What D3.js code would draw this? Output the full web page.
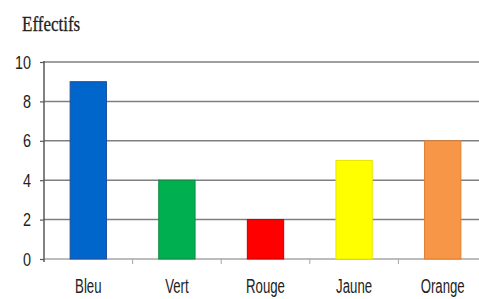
<!DOCTYPE html>
<html><head><meta charset="utf-8">
<script src="https://cdn.jsdelivr.net/npm/d3@7"></script>
<style>body{margin:0;background:#fff}svg{display:block}</style>
</head><body>
<svg id="c" width="479" height="299"></svg>
<script>
const categories = ["Bleu","Vert","Rouge","Jaune","Orange"];
const values = [9,4,2,5,6];
const colors = ["#0066cc","#00b050","#ff0000","#ffff00","#f79646"];
const borders = ["#1f4e99","#0f8a43","#c00000","#e6e600","#e07f30"];
const yTicks = [0,2,4,6,8,10];

const svg = d3.select("#c");
const x = d3.scaleBand().domain(categories).range([44,487]).paddingInner(0.59).paddingOuter(0.295);
const y = d3.scaleLinear().domain([0,10]).range([259,62]);

// gridlines
svg.append("g").selectAll("line").data(yTicks.filter(d=>d>0)).join("line")
  .attr("x1",44).attr("x2",479).attr("y1",d=>y(d)).attr("y2",d=>y(d))
  .attr("stroke","#7f7f7f").attr("stroke-width",1.5);
// baseline
svg.append("line").attr("x1",44).attr("x2",479).attr("y1",y(0)).attr("y2",y(0))
  .attr("stroke","#a6a6a6").attr("stroke-width",1.5);

// bars
const bw = x.bandwidth();
svg.append("g").selectAll("rect").data(categories).join("rect")
  .attr("x",d=>x(d)).attr("width",bw)
  .attr("y",(d,i)=>y(values[i])).attr("height",(d,i)=>y(0)-y(values[i]))
  .attr("fill",(d,i)=>colors[i]).attr("stroke",(d,i)=>borders[i]).attr("stroke-width",1);

// y axis
const yAxis = d3.axisLeft(y).tickValues(yTicks).tickSize(4).tickFormat(d3.format("d"));
const ga = svg.append("g").attr("transform","translate(44,0)").call(yAxis);
ga.select(".domain").attr("d","M0,"+(y(10)-1)+"V"+(y(0)+3)).attr("stroke","#595959").attr("stroke-width",1.5);
ga.selectAll(".tick line").attr("stroke","#595959").attr("stroke-width",1.2);
ga.selectAll(".tick text")
  .attr("x",null).attr("dy",null).attr("text-anchor","end")
  .attr("transform","translate(-13,6) scale(0.8,1)")
  .attr("font-family","'Liberation Sans',Arial,sans-serif")
  .attr("font-size",18).attr("fill","#222");

// x boundary ticks
const step = x.step();
const bounds = categories.slice(1).map(c=>x(c)-x.paddingInner()*step/2);
svg.append("g").selectAll("line").data(bounds).join("line")
  .attr("x1",d=>d).attr("x2",d=>d).attr("y1",y(0)).attr("y2",y(0)+5)
  .attr("stroke","#a6a6a6").attr("stroke-width",1);

// x labels
svg.append("g").selectAll("text").data(categories).join("text")
  .attr("transform",d=>"translate("+(x(d)+bw/2)+",293) scale(0.66,1)")
  .attr("text-anchor","middle")
  .attr("font-family","'Liberation Sans',Arial,sans-serif")
  .attr("font-size",20).attr("fill","#222").text(d=>d);

// title
svg.append("text").attr("transform","translate(22,31) scale(0.85,1)")
  .attr("font-family","'Liberation Serif','Times New Roman',serif")
  .attr("font-size",20).attr("fill","#222")
  .attr("stroke","#222").attr("stroke-width",0.3).text("Effectifs");
</script>
</body></html>
